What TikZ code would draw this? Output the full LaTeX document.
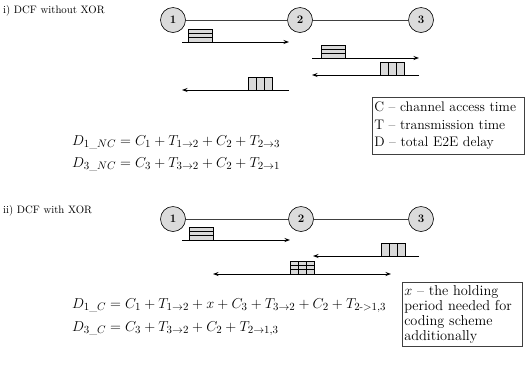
\documentclass[tikz,border=0pt]{standalone}
\usepackage{amsmath}
\usetikzlibrary{calc,arrows.meta}
\begin{document}
\begin{tikzpicture}[x=1bp,y=-1bp,
  title/.style={anchor=west, inner sep=0, font=\fontsize{10.8}{12}\selectfont},
  station/.style={circle, draw=black, fill=gray!28, minimum size=25bp, inner sep=0, line width=0.6pt, font=\fontsize{11.5}{12}\selectfont\bfseries},
  link/.style={draw=black!75, line width=0.5pt},
  arr/.style={draw=black, line width=0.8pt, -{Stealth[length=5.5bp,width=4bp]}},
  darr/.style={draw=black, line width=0.8pt, {Stealth[length=5.5bp,width=4bp]}-{Stealth[length=5.5bp,width=4bp]}},
  pkt/.style={rectangle, draw=black, fill=gray!30, line width=0.5pt, minimum width=24bp, minimum height=13bp, inner sep=0, anchor=south west},
  hpkt/.style={pkt, path picture={
     \foreach \f in {0.33,0.67}
       \draw[line width=0.4pt] ($(path picture bounding box.south west)!\f!(path picture bounding box.north west)$) -- ($(path picture bounding box.south east)!\f!(path picture bounding box.north east)$);}},
  vpkt/.style={pkt, path picture={
     \foreach \f in {0.33,0.67}
       \draw[line width=0.4pt] ($(path picture bounding box.south west)!\f!(path picture bounding box.south east)$) -- ($(path picture bounding box.north west)!\f!(path picture bounding box.north east)$);}},
  gpkt/.style={pkt, path picture={
     \foreach \f in {0.33,0.67}{
       \draw[line width=0.4pt] ($(path picture bounding box.south west)!\f!(path picture bounding box.north west)$) -- ($(path picture bounding box.south east)!\f!(path picture bounding box.north east)$);
       \draw[line width=0.4pt] ($(path picture bounding box.south west)!\f!(path picture bounding box.south east)$) -- ($(path picture bounding box.north west)!\f!(path picture bounding box.north east)$);}}},
  eq/.style={anchor=base west, inner sep=0, font=\fontsize{15}{17}\selectfont},
  legend/.style={rectangle, draw=black!75, line width=0.5pt, anchor=north west, align=left, inner xsep=2bp}
]
\useasboundingbox (0,0) rectangle (525,366);

% ---------- i) DCF without XOR ----------
\node[title] (t1) at (3,11) {i) DCF without XOR};
\node[station] (a1) at (173,20) {1};
\node[station] (a2) at (300,20) {2};
\node[station] (a3) at (421,20) {3};
\draw[link] (a1) -- (a2);
\draw[link] (a2) -- (a3);

\coordinate (r1s) at (182,42);  \coordinate (r1e) at (289,42);
\coordinate (r2s) at (312,58);  \coordinate (r2e) at (419,58);
\coordinate (r3s) at (419,75);  \coordinate (r3e) at (312,75);
\coordinate (r4s) at (289,90);  \coordinate (r4e) at (182,90);
\draw[arr] (r1s) -- (r1e);
\draw[arr] (r2s) -- (r2e);
\draw[arr] (r3s) -- (r3e);
\draw[arr] (r4s) -- (r4e);
\node[hpkt] (p1) at (188,42) {};
\node[hpkt] (p2) at (321,58) {};
\node[vpkt] (p3) at (380,75) {};
\node[vpkt] (p4) at (248,90) {};

\node[legend, text width=148bp, inner ysep=4.6bp, font=\fontsize{13.9}{17.5}\selectfont] (lg1) at (372,97)
  {C -- channel access time\\T -- transmission time\\D -- total E2E delay};

\node[eq] (e1) at (72,145) {$D_{1\_NC}=C_1+T_{1\to2}+C_2+T_{2\to3}$};
\node[eq] (e2) at (72,167) {$D_{3\_NC}=C_3+T_{3\to2}+C_2+T_{2\to1}$};

% ---------- ii) DCF with XOR ----------
\node[title] (t2) at (3,211) {ii) DCF with XOR};
\node[station] (b1) at (173,219) {1};
\node[station] (b2) at (301,219) {2};
\node[station] (b3) at (421,219) {3};
\draw[link] (b1) -- (b2);
\draw[link] (b2) -- (b3);

\coordinate (s1s) at (182,240);  \coordinate (s1e) at (290,240);
\coordinate (s2s) at (419,256);  \coordinate (s2e) at (313,256);
\coordinate (s3s) at (213,274);  \coordinate (s3e) at (391,274);
\draw[arr] (s1s) -- (s1e);
\draw[arr] (s2s) -- (s2e);
\draw[darr] (s3s) -- (s3e);
\node[hpkt] (q1) at (189,240) {};
\node[vpkt] (q2) at (381,256) {};
\node[gpkt] (q3) at (290,274) {};

\node[eq] (e3) at (72,308) {$D_{1\_C}=C_1+T_{1\to2}+x+C_3+T_{3\to2}+C_2+T_{2\text{-}{>}1,3}$};
\node[eq] (e4) at (72,331) {$D_{3\_C}=C_3+T_{3\to2}+C_2+T_{2\to1,3}$};

\node[legend, text width=116bp, inner ysep=3.2bp, font=\fontsize{14.4}{15}\selectfont] (lg2) at (402,282)
  {$x$ -- the holding\\period needed for\\coding scheme\\additionally};
\end{tikzpicture}
\end{document}
